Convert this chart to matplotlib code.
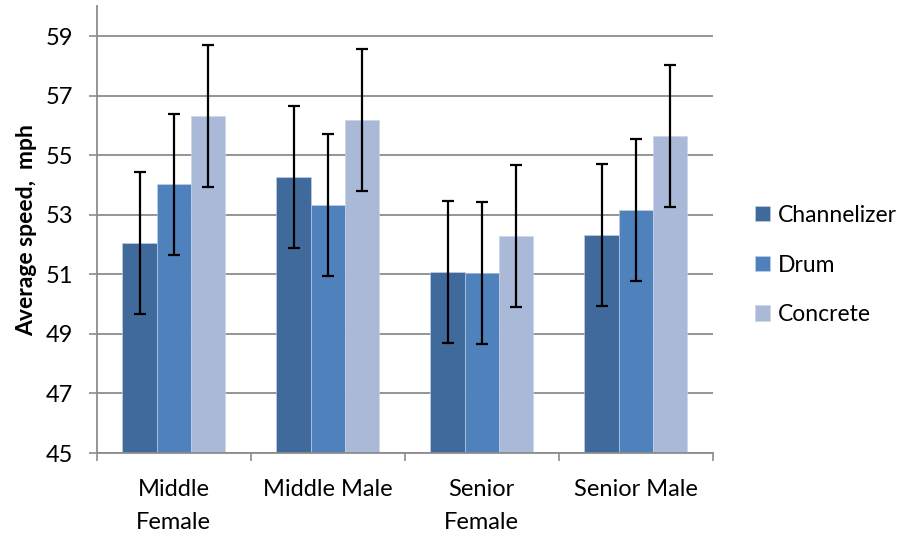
import matplotlib.pyplot as plt
import numpy as np

plt.rcParams['font.family'] = ['Lato', 'DejaVu Sans']

groups = ['Middle\nFemale', 'Middle Male', 'Senior\nFemale', 'Senior Male']
series = ['Channelizer', 'Drum', 'Concrete']
channelizer = [52.05, 54.26, 51.09, 52.32]
drum = [54.02, 53.32, 51.04, 53.15]
concrete = [56.33, 56.18, 52.29, 55.65]
err_channelizer = [2.38, 2.38, 2.38, 2.38]
err_drum = [2.38, 2.38, 2.38, 2.38]
err_concrete = [2.38, 2.38, 2.38, 2.38]
colors = ['#416A9C', '#4F81BD', '#AAB9D7']

fig = plt.figure(figsize=(9.08, 5.33), dpi=100)
ax = fig.add_axes([0.1065, 0.150, 0.6785, 0.838])

x = np.arange(len(groups))
w = 0.222
vals = [channelizer, drum, concrete]
errs = [err_channelizer, err_drum, err_concrete]
for i, (name, v, e) in enumerate(zip(series, vals, errs)):
    ax.bar(x + (i - 1) * w, v, w, bottom=0, color=colors[i], label=name,
           edgecolor='#c8d4e8', linewidth=0.4, zorder=2)
    ax.errorbar(x + (i - 1) * w, v, yerr=e, fmt='none', ecolor='black',
                elinewidth=1.6, capsize=4.5, capthick=1.6, zorder=3)

fs = 17
ax.set_ylim(45, 60)
ax.set_yticks(np.arange(45, 60, 2))
ax.set_xlim(-0.5, 3.5)
ax.set_xticks(x)
ax.set_xticklabels(groups, fontsize=fs, linespacing=1.7)
ax.set_xticks(np.arange(-0.5, 4, 1), minor=True)
ax.tick_params(axis='x', which='major', length=0, pad=19)
ax.tick_params(axis='x', which='minor', length=6, color='#8c8c8c', width=1.2)
ax.tick_params(axis='y', labelsize=fs, length=6, color='#8c8c8c', width=1.2, pad=11)

ax.yaxis.grid(True, color='#8c8c8c', linewidth=1.3, zorder=0)
ax.set_axisbelow(True)
for s in ['top', 'right']:
    ax.spines[s].set_visible(False)
for s in ['left', 'bottom']:
    ax.spines[s].set_color('#8c8c8c')
    ax.spines[s].set_linewidth(1.3)

ax.set_ylabel('Average speed,  mph', fontsize=fs - 0.5, fontweight='bold', labelpad=6)

leg = ax.legend(loc='center left', bbox_to_anchor=(1.069, 0.421), frameon=False,
                fontsize=16.5, handlelength=0.65, handleheight=0.65,
                handletextpad=0.35, labelspacing=1.25, borderpad=0, borderaxespad=0)

plt.savefig('out.png', dpi=100)
